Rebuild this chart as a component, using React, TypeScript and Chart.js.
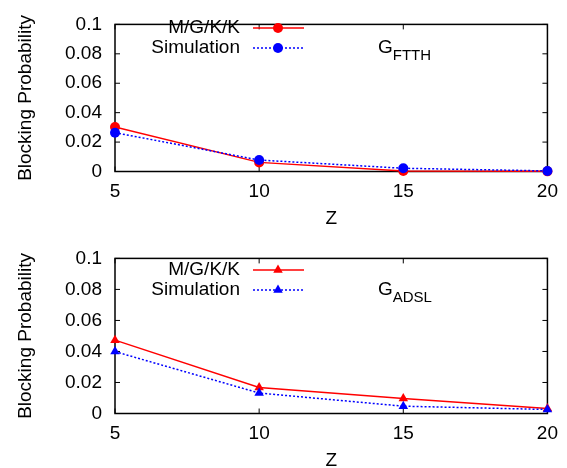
import React, { useEffect, useRef } from "react";
import { Chart, registerables } from "chart.js";

Chart.register(...registerables);

const zValues = [5, 10, 15, 20];
const xTickLabels = ["5", "10", "15", "20"];
const yTickLabels = ["0", "0.02", "0.04", "0.06", "0.08", "0.1"];
const seriesNames = ["M/G/K/K", "Simulation"];
const ftthModel = [0.0303, 0.0062, 0.0004, 0.0001];
const ftthSim = [0.0264, 0.0078, 0.0022, 0.0004];
const adslModel = [0.0473, 0.0168, 0.0096, 0.0032];
const adslSim = [0.0399, 0.0132, 0.0047, 0.0026];
const panelMain = ["G", "G"];
const panelSub = ["FTTH", "ADSL"];
const xTitle = "Z";
const yTitle = "Blocking Probability";

const FONT = '"Liberation Sans", Arial, Helvetica, sans-serif';
const FS = 19;
const RED = "#ff0000";
const BLUE = "#0000ff";

type Geom = {
  canvasH: number;
  plotTop: number;
  plotBottom: number;
  xTitlePad: number;
  legendY: number[];
  annY: number;
};

function drawMarker(ctx: CanvasRenderingContext2D, style: string, x: number, y: number, r: number, color: string) {
  ctx.save();
  ctx.fillStyle = color;
  ctx.beginPath();
  if (style === "triangle") {
    let rad = 0;
    ctx.moveTo(x + Math.sin(rad) * r, y - Math.cos(rad) * r);
    rad += (2 * Math.PI) / 3;
    ctx.lineTo(x + Math.sin(rad) * r, y - Math.cos(rad) * r);
    rad += (2 * Math.PI) / 3;
    ctx.lineTo(x + Math.sin(rad) * r, y - Math.cos(rad) * r);
    ctx.closePath();
  } else {
    ctx.arc(x, y, r, 0, Math.PI * 2);
  }
  ctx.fill();
  ctx.restore();
}

function makeChart(canvas: HTMLCanvasElement, model: number[], sim: number[], idx: number, pointStyle: string, radius: number, g: Geom) {
  const framePlugin = {
    id: "frame" + idx,
    beforeDatasetsDraw(chart: any) {
      const { ctx, chartArea } = chart;
      const xs = chart.scales.x;
      const ys = chart.scales.y;
      ctx.save();
      ctx.strokeStyle = "#000";
      ctx.lineWidth = 1.5;
      ctx.strokeRect(chartArea.left, chartArea.top, chartArea.right - chartArea.left, chartArea.bottom - chartArea.top);
      const tl = 5;
      ctx.lineWidth = 1;
      ctx.beginPath();
      zValues.forEach((v) => {
        const px = xs.getPixelForValue(v);
        ctx.moveTo(px, chartArea.bottom);
        ctx.lineTo(px, chartArea.bottom - tl);
        ctx.moveTo(px, chartArea.top);
        ctx.lineTo(px, chartArea.top + tl);
      });
      yTickLabels.forEach((_, i) => {
        const py = ys.getPixelForValue(i * 0.02);
        ctx.moveTo(chartArea.left, py);
        ctx.lineTo(chartArea.left + tl, py);
        ctx.moveTo(chartArea.right, py);
        ctx.lineTo(chartArea.right - tl, py);
      });
      ctx.stroke();
      ctx.restore();
    },
    afterDraw(chart: any) {
      const { ctx } = chart;
      ctx.save();
      ctx.font = `${FS}px ${FONT}`;
      ctx.fillStyle = "#000";
      ctx.textAlign = "right";
      ctx.textBaseline = "middle";
      const colors = [RED, BLUE];
      seriesNames.forEach((name, i) => {
        const y = g.legendY[i];
        ctx.fillText(name, 240, y);
        ctx.save();
        ctx.strokeStyle = colors[i];
        ctx.lineWidth = 1.5;
        ctx.setLineDash(i === 0 ? [] : [2, 2]);
        ctx.beginPath();
        ctx.moveTo(253, y);
        ctx.lineTo(304, y);
        ctx.stroke();
        ctx.restore();
        drawMarker(ctx, pointStyle, 278, y, radius, colors[i]);
      });
      ctx.textAlign = "left";
      ctx.font = `${FS}px ${FONT}`;
      ctx.fillText(panelMain[idx], 378, g.annY);
      const w = ctx.measureText(panelMain[idx]).width;
      ctx.font = `15px ${FONT}`;
      ctx.fillText(panelSub[idx], 378 + w, g.annY + 8);
      ctx.restore();
    },
  };

  return new Chart(canvas, {
    type: "line",
    data: {
      datasets: [
        {
          label: seriesNames[1],
          data: zValues.map((z, i) => ({ x: z, y: sim[i] })),
          borderColor: BLUE,
          backgroundColor: BLUE,
          borderWidth: 1.5,
          borderDash: [2, 2],
          pointStyle: pointStyle as any,
          pointRadius: radius,
          pointBorderWidth: 0,
          pointBackgroundColor: BLUE,
          clip: false as any,
          order: 0,
        },
        {
          label: seriesNames[0],
          data: zValues.map((z, i) => ({ x: z, y: model[i] })),
          borderColor: RED,
          backgroundColor: RED,
          borderWidth: 1.5,
          pointStyle: pointStyle as any,
          pointRadius: radius,
          pointBorderWidth: 0,
          pointBackgroundColor: RED,
          clip: false as any,
          order: 1,
        },
      ],
    },
    options: {
      responsive: false,
      animation: false,
      devicePixelRatio: 1,
      layout: { padding: { top: g.plotTop, right: 18, bottom: 0, left: 0 } },
      plugins: { legend: { display: false }, tooltip: { enabled: false }, title: { display: false } },
      scales: {
        x: {
          type: "linear",
          min: 5,
          max: 20,
          afterBuildTicks: (scale: any) => {
            scale.ticks = zValues.map((v) => ({ value: v }));
          },
          afterFit: (scale: any) => {
            scale.height = g.canvasH - g.plotBottom;
          },
          grid: { display: false, drawTicks: false },
          border: { display: false },
          ticks: {
            padding: 9,
            color: "#000",
            font: { family: FONT, size: FS },
            maxRotation: 0,
            callback: (_v: any, i: number) => xTickLabels[i],
          },
          title: {
            display: true,
            text: xTitle,
            color: "#000",
            font: { family: FONT, size: FS },
            padding: { top: 0, bottom: g.xTitlePad },
          },
        },
        y: {
          type: "linear",
          min: 0,
          max: 0.1,
          afterBuildTicks: (scale: any) => {
            scale.ticks = yTickLabels.map((_, i) => ({ value: i * 0.02 }));
          },
          afterFit: (scale: any) => {
            scale.width = 115;
          },
          grid: { display: false, drawTicks: false },
          border: { display: false },
          ticks: {
            padding: 13,
            color: "#000",
            font: { family: FONT, size: FS },
            callback: (_v: any, i: number) => yTickLabels[i],
          },
          title: {
            display: true,
            text: yTitle,
            color: "#000",
            font: { family: FONT, size: FS },
            padding: { top: 14, bottom: 0 },
          },
        },
      },
    },
    plugins: [framePlugin],
  } as any);
}

export default function App() {
  const ref1 = useRef<HTMLCanvasElement>(null);
  const ref2 = useRef<HTMLCanvasElement>(null);

  useEffect(() => {
    const c1 = makeChart(ref1.current!, ftthModel, ftthSim, 0, "circle", 5, {
      canvasH: 234,
      plotTop: 14.5,
      plotBottom: 171.5,
      xTitlePad: 4,
      legendY: [28, 48],
      annY: 48,
    });
    const c2 = makeChart(ref2.current!, adslModel, adslSim, 1, "triangle", 5.5, {
      canvasH: 234,
      plotTop: 22.5,
      plotBottom: 179.5,
      xTitlePad: -4,
      legendY: [36, 56],
      annY: 56,
    });
    return () => {
      c1.destroy();
      c2.destroy();
    };
  }, []);

  return (
    <div style={{ position: "absolute", left: 0, top: 0, width: 567, height: 468, background: "#fff" }}>
      <canvas ref={ref1} width={567} height={234} style={{ position: "absolute", left: 0, top: 0, width: 567, height: 234 }} />
      <canvas ref={ref2} width={567} height={234} style={{ position: "absolute", left: 0, top: 234, width: 567, height: 234 }} />
    </div>
  );
}
